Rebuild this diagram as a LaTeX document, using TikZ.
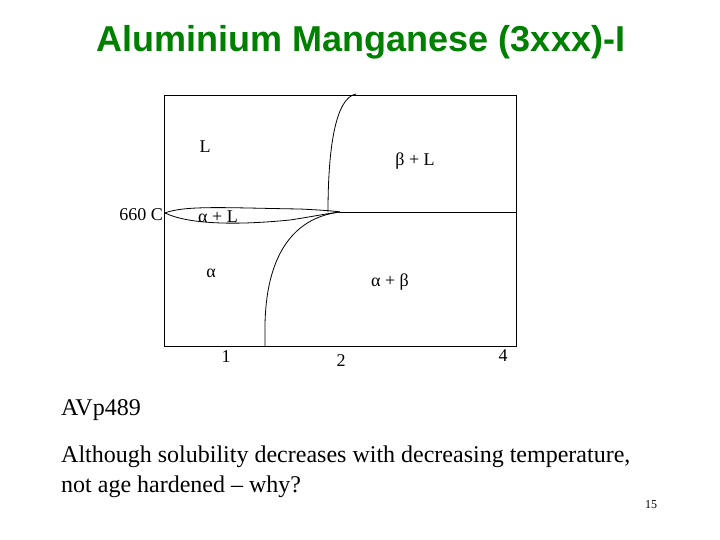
\documentclass[tikz,border=0pt]{standalone}
\usepackage{fontspec}
\setmainfont{Liberation Serif}
\newfontfamily\titlefont{Liberation Sans}
\begin{document}
\begin{tikzpicture}[x=1pt,y=-1pt,
  lbl/.style={font=\fontsize{18}{20}\selectfont, inner sep=0pt},
  curve/.style={line width=0.8pt},
  body/.style={font=\fontsize{24}{30}\selectfont, inner sep=0pt, anchor=west}]
\useasboundingbox (0,0) rectangle (720,540);
\node[font=\titlefont\bfseries\fontsize{36}{40}\selectfont, text={rgb,255:red,0;green,128;blue,0}, inner sep=0pt] (title) at (361,42) {Aluminium Manganese (3xxx)-I};
% frame
\draw[line width=0.9pt] (164,95) rectangle (516,346);
\coordinate (e1) at (340,212);
\coordinate (e2) at (516,212);
\draw[line width=0.9pt] (e1) -- (e2);
% liquidus
\draw[curve] (356,94) .. controls (335,98) and (328,150) .. (328,212);
% alpha + L lens
\coordinate (apex) at (165,213);
\draw[curve] (apex) .. controls (185,205) and (230,208) .. (300,209) .. controls (320,210) and (335,211) .. (e1);
\draw[curve] (apex) .. controls (190,225) and (240,225) .. (290,220) .. controls (310,217) and (330,213) .. (e1);
% solvus
\draw[curve] (265,346) -- (265,325) .. controls (266,260) and (290,218) .. (e1);
% labels
\node[lbl] (L) at (205,147) {L};
\node[lbl] (bL) at (415,161) {β + L};
\node[lbl, anchor=east] (t660) at (163,215) {660 C};
\node[lbl] (aL) at (218,217) {α + L};
\node[lbl] (a) at (211,273) {α};
\node[lbl] (ab) at (390,282) {α + β};
\node[lbl] (n1) at (226,357) {1};
\node[lbl] (n2) at (341,361) {2};
\node[lbl] (n4) at (503,356) {4};
% text
\node[body] (avp) at (61,410) {AVp489};
\node[body] (q1) at (61,457) {Although solubility decreases with decreasing temperature,};
\node[body] (q2) at (61,487) {not age hardened -- why?};
\node[font=\fontsize{12}{14}\selectfont, inner sep=0pt] (pg) at (651,505) {15};
\end{tikzpicture}
\end{document}
